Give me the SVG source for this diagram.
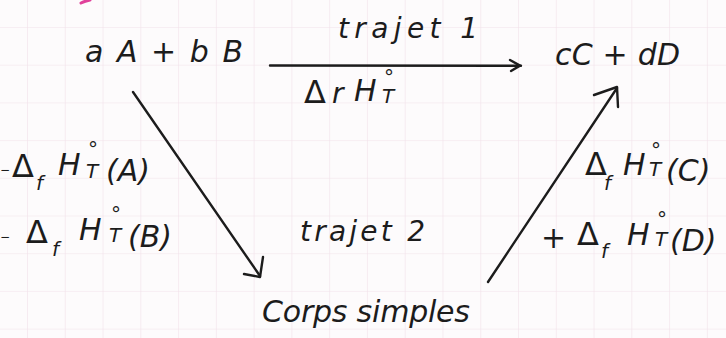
<svg xmlns="http://www.w3.org/2000/svg" width="726" height="338" viewBox="0 0 726 338">
  <defs>
    <pattern id="grid" patternUnits="userSpaceOnUse" x="27" y="27" width="37.77" height="37.7">
      <path d="M0 0 V37.7 M0 0 H37.77" fill="none" stroke="#f2e1ea" stroke-width="1.2"/>
    </pattern>
    <style>
      .t { font-family: "DejaVu Sans", "Liberation Sans", sans-serif; font-style: oblique; fill: #1c1c1c; font-size: 30px; }
      .m { font-size: 28px; }
      .d { font-size: 32px; font-style: normal; }
      .s { font-size: 20px; }
      .x { font-size: 12px; }
      .c { fill: none; stroke: #1c1c1c; stroke-width: 2.4; stroke-linecap: round; stroke-linejoin: round; }
    </style>
  </defs>
  <rect width="726" height="338" fill="#fdfbfc"/>
  <rect width="726" height="338" fill="url(#grid)"/>
  <path d="M81 3 Q85 1 90 0" fill="none" stroke="#e0409a" stroke-width="3" stroke-linecap="round"/>

  <g id="reactants">
    <text class="t" x="85" y="62" textLength="158" lengthAdjust="spacing">a A + b B</text>
  </g>
  <g id="products">
    <text class="t" x="555" y="65" textLength="125" lengthAdjust="spacing">cC + dD</text>
  </g>
  <g id="elements">
    <text class="t" x="262" y="322" textLength="208" lengthAdjust="spacing">Corps simples</text>
  </g>

  <g id="connectors">
    <path class="c" d="M270 65.5 L521 65.8"/>
    <path class="c" d="M510 60 L520 65.6 L511 71"/>
    <path class="c" d="M133 92 L260 276"/>
    <path class="c" d="M244 274 L260 277 L263 257"/>
    <path class="c" d="M488 282 L617 88"/>
    <path class="c" d="M594 95 L617 87 L618 107"/>
  </g>

  <g id="labels">
    <text class="t m" x="338" y="38" textLength="140" lengthAdjust="spacing">trajet 1</text>
    <text class="t"><tspan x="304" y="103" class="d">Δ</tspan><tspan x="332" y="103" class="m">r</tspan><tspan x="354" y="101">H</tspan><tspan x="384" y="84" class="s">°</tspan><tspan x="382" y="103" class="s">T</tspan></text>
    <text class="t m" x="300" y="241" textLength="125" lengthAdjust="spacing">trajet 2</text>

    <text class="t"><tspan x="0" y="174" class="x">−</tspan><tspan x="12" y="177" class="d">Δ</tspan><tspan x="36" y="190" class="s">f</tspan><tspan x="58" y="175">H</tspan><tspan x="88" y="156" class="s">°</tspan><tspan x="86" y="178" class="s">T</tspan><tspan x="106" y="181">(A)</tspan></text>
    <text class="t"><tspan x="0" y="241" class="x">−</tspan><tspan x="26" y="243" class="d">Δ</tspan><tspan x="52" y="256" class="s">f</tspan><tspan x="79" y="240">H</tspan><tspan x="111" y="221" class="s">°</tspan><tspan x="109" y="242" class="s">T</tspan><tspan x="128" y="247">(B)</tspan></text>

    <text class="t"><tspan x="585" y="175" class="d">Δ</tspan><tspan x="604" y="190" class="s">f</tspan><tspan x="623" y="175">H</tspan><tspan x="651" y="157" class="s">°</tspan><tspan x="649" y="176" class="s">T</tspan><tspan x="666" y="181">(C)</tspan></text>
    <text class="t"><tspan x="541" y="248">+</tspan><tspan x="577" y="245" class="d">Δ</tspan><tspan x="601" y="258" class="s">f</tspan><tspan x="627" y="245">H</tspan><tspan x="657" y="226" class="s">°</tspan><tspan x="655" y="246" class="s">T</tspan><tspan x="670" y="251">(D)</tspan></text>
  </g>
</svg>
